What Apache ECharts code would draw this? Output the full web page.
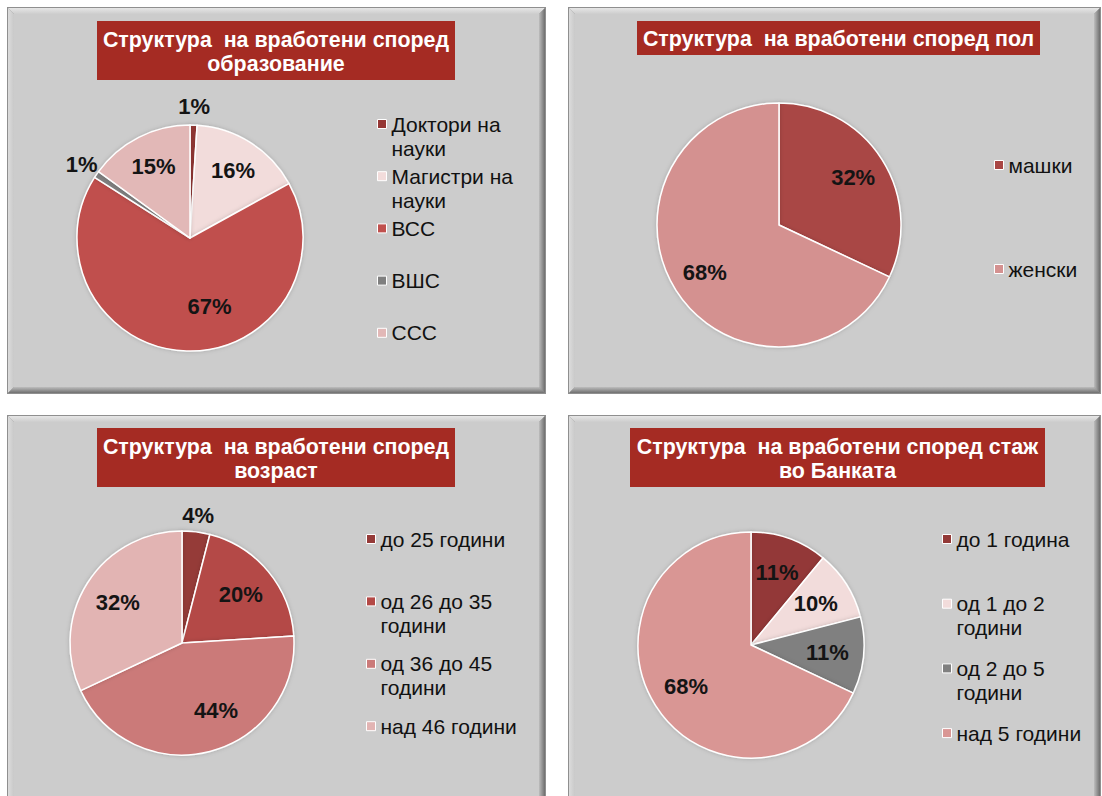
<!DOCTYPE html>
<html>
<head>
<meta charset="utf-8">
<script src="https://cdn.jsdelivr.net/npm/echarts@6/dist/echarts.min.js"></script>
<style>
html,body{margin:0;padding:0;background:#ffffff;}
#chart{width:1102px;height:796px;}
</style>
</head>
<body>
<div id="chart"></div>
<script>
// ---------------- DATA ----------------
const titleEducation = 'Структура  на вработени според\nобразование';
const catEducation = ['Доктори на\nнауки', 'Магистри на\nнауки', 'ВСС', 'ВШС', 'ССС'];
const valEducation = [1, 16, 67, 1, 15];

const titleGender = 'Структура  на вработени според пол';
const catGender = ['машки', 'женски'];
const valGender = [32, 68];

const titleAge = 'Структура  на вработени според\nвозраст';
const catAge = ['до 25 години', 'од 26 до 35\nгодини', 'од 36 до 45\nгодини', 'над 46 години'];
const valAge = [4, 20, 44, 32];

const titleTenure = 'Структура  на вработени според стаж\nво Банката';
const catTenure = ['до 1 година', 'од 1 до 2\nгодини', 'од 2 до 5\nгодини', 'над 5 години'];
const valTenure = [11, 10, 11, 68];

// ---------------- STYLES ----------------
const colEducation = ['#953735', '#F2DCDB', '#C0504D', '#7F7F7F', '#E2B8B7'];
const colGender = ['#A94644', '#D49190'];
const colAge = ['#953A38', '#B44946', '#CB7A79', '#E2B4B3'];
const colTenure = ['#933937', '#F2DCDB', '#808080', '#D99694'];

// ---------------- LAYOUT ----------------
const panels = [
  { box: [7, 7, 539, 387], title: titleEducation, tbox: [97, 21, 358, 59],
    cats: catEducation, vals: valEducation, cols: colEducation,
    center: [190, 238], r: 113, inR: 0.71, outR: 1.16, nudge: { 2: [22, -12] },
    legX: 377, legY: 124, legStep: 52.2 },
  { box: [568, 7, 533, 387], title: titleGender, tbox: [637, 21, 403, 34],
    cats: catGender, vals: valGender, cols: colGender,
    center: [779, 225], r: 122, inR: 0.72, outR: 1.16, nudge: {},
    legX: 994, legY: 165, legStep: 104 },
  { box: [7, 415, 539, 400], title: titleAge, tbox: [97, 428, 358, 59],
    cats: catAge, vals: valAge, cols: colAge,
    center: [182, 643], r: 112, inR: 0.68, outR: 1.15, nudge: { 2: [15, -6] },
    legX: 366, legY: 539, legStep: 62.4 },
  { box: [568, 415, 533, 400], title: titleTenure, tbox: [630, 428, 415, 59],
    cats: catTenure, vals: valTenure, cols: colTenure,
    center: [751, 645], r: 113, inR: 0.68, outR: 1.15, nudge: {},
    legX: 942, legY: 539, legStep: 64.7 }
];

const LABEL_FONT = '"Liberation Sans Narrow", "Arial Narrow", "Liberation Sans", Arial, sans-serif';
const TEXT_FONT = '"Liberation Sans", Arial, sans-serif';
const LINE_H = 24;

// ---------------- BUILD ----------------
function panelGraphics(b) {
  const [x, y, w, h] = b;
  const bv = 6;
  const LG = echarts.graphic.LinearGradient;
  return [
    { type: 'rect', silent: true, shape: { x: x, y: y, width: w, height: h }, style: { fill: '#8f8f8f' } },
    { type: 'polygon', silent: true,
      shape: { points: [[x + 1, y + 1], [x + w - 1, y + 1], [x + w - 1 - bv, y + 1 + bv], [x + 1 + bv, y + 1 + bv]] },
      style: { fill: new LG(0, 0, 0, 1, [{ offset: 0, color: '#e6e6e6' }, { offset: 1, color: '#cdcdcd' }]) } },
    { type: 'polygon', silent: true,
      shape: { points: [[x + 1, y + 1], [x + 1 + bv, y + 1 + bv], [x + 1 + bv, y + h - 1 - bv], [x + 1, y + h - 1]] },
      style: { fill: new LG(0, 0, 1, 0, [{ offset: 0, color: '#dcdcdc' }, { offset: 1, color: '#c9c9c9' }]) } },
    { type: 'polygon', silent: true,
      shape: { points: [[x + w - 1, y + 1], [x + w - 1, y + h - 1], [x + w - 1 - bv, y + h - 1 - bv], [x + w - 1 - bv, y + 1 + bv]] },
      style: { fill: new LG(0, 0, 1, 0, [{ offset: 0, color: '#bdbdbd' }, { offset: 1, color: '#6e6e6e' }]) } },
    { type: 'polygon', silent: true,
      shape: { points: [[x + 1, y + h - 1], [x + w - 1, y + h - 1], [x + w - 1 - bv, y + h - 1 - bv], [x + 1 + bv, y + h - 1 - bv]] },
      style: { fill: new LG(0, 0, 0, 1, [{ offset: 0, color: '#bdbdbd' }, { offset: 1, color: '#707070' }]) } },
    { type: 'rect', silent: true, shape: { x: x + 1 + bv, y: y + 1 + bv, width: w - 2 - 2 * bv, height: h - 2 - 2 * bv }, style: { fill: '#cccccc' } }
  ];
}

function titleGraphics(p) {
  const [x, y, w, h] = p.tbox;
  return [
    { type: 'rect', silent: true, shape: { x: x, y: y, width: w, height: h }, style: { fill: '#A52B23' } },
    { type: 'text', silent: true, x: x + w / 2, y: y + h / 2 + 1,
      style: { text: p.title, align: 'center', verticalAlign: 'middle', fill: '#ffffff',
        font: 'bold 21.4px ' + TEXT_FONT, lineHeight: LINE_H } }
  ];
}

function labelLayoutFor(p) {
  const total = p.vals.reduce((a, b) => a + b, 0);
  return function (params) {
    const i = params.dataIndex;
    let cum = 0;
    for (let k = 0; k < i; k++) cum += p.vals[k];
    const ang = (cum + p.vals[i] / 2) / total * Math.PI * 2;
    const k = p.vals[i] < 5 ? p.outR : p.inR;
    const n = p.nudge[i] || [0, 0];
    return {
      x: p.center[0] + Math.sin(ang) * p.r * k + n[0],
      y: p.center[1] - Math.cos(ang) * p.r * k + n[1],
      align: 'center',
      verticalAlign: 'middle'
    };
  };
}

const graphics = [];
panels.forEach(p => { graphics.push(...panelGraphics(p.box)); });
panels.forEach(p => { graphics.push(...titleGraphics(p)); });

const series = panels.map(p => ({
  type: 'pie',
  center: p.center,
  radius: p.r,
  startAngle: 90,
  clockwise: true,
  animation: false,
  silent: true,
  avoidLabelOverlap: false,
  data: p.cats.map((c, i) => ({ name: c, value: p.vals[i], itemStyle: { color: p.cols[i] } })),
  itemStyle: { borderColor: '#ffffff', borderWidth: 1.5, shadowBlur: 4, shadowColor: 'rgba(0,0,0,0.18)' },
  label: {
    show: true, position: 'inside', formatter: '{c}%',
    fontFamily: LABEL_FONT, fontWeight: 'bold', fontSize: 22, color: '#141414'
  },
  labelLine: { show: false },
  labelLayout: labelLayoutFor(p),
  emphasis: { disabled: true }
}));

const legends = [];
panels.forEach(p => {
  p.cats.forEach((c, i) => {
    const multi = c.indexOf('\n') >= 0;
    const cy = p.legY + i * p.legStep;
    legends.push({
      left: p.legX,
      top: cy - (multi ? 1.5 * LINE_H : LINE_H / 2),
      orient: 'vertical',
      padding: 0,
      selectedMode: false,
      icon: 'rect',
      itemWidth: 9,
      itemHeight: 9,
      itemGap: 0,
      itemStyle: { borderColor: '#ffffff', borderWidth: 1, shadowBlur: 0 },
      formatter: function (name) { return name.indexOf('\n') >= 0 ? '\n' + name : name; },
      textStyle: {
        fontFamily: TEXT_FONT, fontSize: 21, lineHeight: LINE_H, color: '#111111'
      },
      data: [c]
    });
  });
});

const chart = echarts.init(document.getElementById('chart'), null, { renderer: 'svg' });
chart.setOption({
  backgroundColor: '#ffffff',
  animation: false,
  graphic: { elements: graphics },
  legend: legends,
  series: series
});
</script>
</body>
</html>
